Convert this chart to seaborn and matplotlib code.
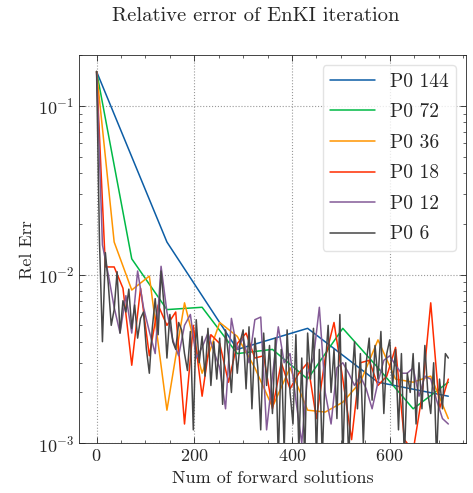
import matplotlib
matplotlib.use("Agg")
import matplotlib.pyplot as plt
from matplotlib.ticker import AutoMinorLocator, LogLocator, NullFormatter
import numpy as np
import pandas as pd
import seaborn as sns

# ensemble sizes and relative error
ens_sizes = [144, 72, 36, 18, 12, 6]
labels = ["P0 144", "P0 72", "P0 36", "P0 18", "P0 12", "P0 6"]
colors = ["#0C5DA5", "#00B945", "#FF9500", "#FF2C00", "#845B97", "#474747"]

err_144 = [0.16, 0.0156, 0.0036, 0.0048, 0.0023, 0.0019]
err_72 = [0.16, 0.0124, 0.0062, 0.0064, 0.0034, 0.0036, 0.0024, 0.0048, 0.0028, 0.0016, 0.0023]
err_36 = [0.16, 0.0156, 0.0081, 0.0098, 0.00157, 0.0068, 0.0026, 0.0052, 0.0043, 0.0028,
          0.00164, 0.0028, 0.00157, 0.00153, 0.00175, 0.0023, 0.0041, 0.0024, 0.0023, 0.0025,
          0.0014]
err_18 = [0.16, 0.0111, 0.0111, 0.0083, 0.0029, 0.0083, 0.0033, 0.0066, 0.0050, 0.0060,
          0.0013, 0.0050, 0.0019, 0.0044, 0.0039, 0.0023, 0.0039, 0.0045, 0.0032, 0.0033,
          0.0016, 0.0030, 0.0021, 0.0026, 0.0030, 0.0014, 0.0032, 0.0052, 0.0024, 0.00105,
          0.0030, 0.0031, 0.0022, 0.0025, 0.0037, 0.00105, 0.0009, 0.0019, 0.0068, 0.0016,
          0.0024]
err_12 = [0.16, 0.0150, 0.0100, 0.0064, 0.0045, 0.0075, 0.0045, 0.0105, 0.0064, 0.0046,
          0.0034, 0.0112, 0.0060, 0.0041, 0.0033, 0.0050, 0.0058, 0.0032, 0.0037, 0.0045,
          0.0035, 0.0028, 0.0016, 0.0055, 0.0036, 0.0042, 0.0030, 0.0054, 0.0056, 0.0012,
          0.0025, 0.0049, 0.0030, 0.0034, 0.0018, 0.0010, 0.0026, 0.0032, 0.0064, 0.0020,
          0.0013, 0.0028, 0.0030, 0.0026, 0.0022, 0.0025, 0.0021, 0.0016, 0.0023, 0.0031,
          0.0033, 0.0029, 0.0026, 0.0026, 0.0028, 0.0019, 0.0025, 0.0024, 0.0018, 0.0014,
          0.0013]
err_6 = [0.16,
         0.0155, 0.0040, 0.0135, 0.0088, 0.0050, 0.0062, 0.0104, 0.0045, 0.0070, 0.0060,
         0.0082, 0.0048, 0.0066, 0.0042, 0.0055, 0.0060, 0.0036, 0.0026, 0.0048, 0.0072,
         0.0044, 0.0105, 0.0066, 0.0032, 0.0058, 0.0040, 0.0036, 0.0052, 0.0047, 0.0034,
         0.0027, 0.0046, 0.0012, 0.0054, 0.0030, 0.0043, 0.0025, 0.0048, 0.0022, 0.0040,
         0.0024, 0.0042, 0.0017, 0.0047, 0.0033, 0.0020, 0.0044, 0.0026, 0.0040, 0.0047,
         0.0021, 0.0049, 0.0016, 0.0042, 0.0028, 0.0012, 0.0045, 0.0022, 0.0038, 0.0015,
         0.0042, 0.0008, 0.0036, 0.0009, 0.0047, 0.0020, 0.0013, 0.0044, 0.0009, 0.0032,
         0.0008, 0.0045, 0.0024, 0.0048, 0.0008, 0.0036, 0.0008, 0.0028, 0.0050, 0.0020,
         0.0036, 0.0014, 0.0058, 0.0008, 0.0030, 0.0008, 0.0022, 0.0040, 0.0016, 0.0034,
         0.0010, 0.0030, 0.0042, 0.0018, 0.0038, 0.0024, 0.0046, 0.0015, 0.0034, 0.0041,
         0.0022, 0.0036, 0.0012, 0.0034, 0.0008, 0.0026, 0.0020, 0.0034, 0.0013, 0.0030,
         0.0016, 0.0038, 0.0020, 0.0015, 0.0030, 0.0008, 0.0024, 0.0016, 0.0034, 0.0032]

all_err = [err_144, err_72, err_36, err_18, err_12, err_6]

# long-form table: forward solutions = iteration * ensemble size
rows = []
for size, lab, errs in zip(ens_sizes, labels, all_err):
    for i, e in enumerate(errs):
        rows.append({"n_forward": i * size, "rel_err": e, "run": lab})
df = pd.DataFrame(rows)

sns.set_style("ticks")
plt.rcParams["font.family"] = ["cmr10", "DejaVu Serif"]
plt.rcParams["mathtext.fontset"] = "cm"
plt.rcParams["axes.formatter.use_mathtext"] = True
plt.rcParams["axes.unicode_minus"] = False

fig = plt.figure(figsize=(4.73, 4.93), dpi=100)
ax = fig.add_axes([0.167, 0.101, 0.818, 0.787])

sns.lineplot(data=df, x="n_forward", y="rel_err", hue="run", hue_order=labels,
             palette=colors, estimator=None, linewidth=1.1, ax=ax)

ax.set_yscale("log")
ax.set_ylim(1e-3, 0.2)
ax.set_xlim(-36, 756)
ax.set_xticks([0, 200, 400, 600])
ax.xaxis.set_minor_locator(AutoMinorLocator(4))
ax.yaxis.set_minor_locator(LogLocator(base=10, subs=np.arange(2, 10)))
ax.yaxis.set_minor_formatter(NullFormatter())

ax.tick_params(which="both", direction="in", top=True, right=True, labelsize=13)
ax.tick_params(which="major", length=4, width=0.6)
ax.tick_params(which="minor", length=2, width=0.5)
for s in ax.spines.values():
    s.set_linewidth(0.6)

ax.grid(True, which="major", linestyle=":", color="#999999", linewidth=0.8)

fig.text(256 / 473, 1 - 16 / 493, "Relative error of EnKI iteration",
         fontsize=14.8, ha="center", va="center")
ax.set_xlabel("Num of forward solutions", fontsize=13, labelpad=5)
ax.set_ylabel("Rel Err", fontsize=13, labelpad=2)

ax.legend(loc="upper right", fontsize=14, handlelength=2.3, handletextpad=0.75,
          labelspacing=0.65, borderpad=0.4, borderaxespad=0.5, frameon=True,
          fancybox=True, framealpha=0.8, edgecolor="#dddddd")

fig.savefig("out.png", dpi=100)
